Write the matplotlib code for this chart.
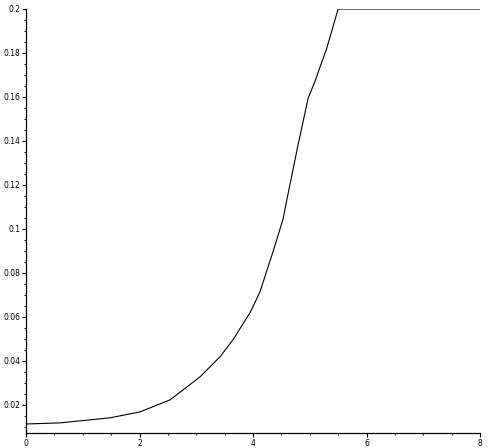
import matplotlib
matplotlib.use('Agg')
import matplotlib.pyplot as plt
from matplotlib.ticker import MultipleLocator, FuncFormatter

# values
x = [0, 0.6, 1.48, 2.01, 2.54, 3.07, 3.42, 3.65, 3.95, 4.12, 4.35, 4.53,
     4.6, 4.78, 4.97, 5.09, 5.3, 5.5, 8]
y = [0.0113, 0.0118, 0.0141, 0.0168, 0.0223, 0.0328, 0.0419, 0.0497, 0.062,
     0.0712, 0.0894, 0.1045, 0.1137, 0.1365, 0.1593, 0.167, 0.1822, 0.2, 0.2]
x_ticks = [0, 2, 4, 6, 8]
y_ticks = [0.02, 0.04, 0.06, 0.08, 0.1, 0.12, 0.14, 0.16, 0.18, 0.2]

W, H = 492, 448
fig = plt.figure(figsize=(W / 100, H / 100), dpi=100)
ax = fig.add_axes([26 / W, (H - 433) / H, (480 - 26) / W, (433 - 9) / H])

ax.plot(x, y, color='black', linewidth=0.8)

ax.set_xlim(0, 8)
ax.set_ylim(0.0072, 0.2)
ax.set_xticks(x_ticks)
ax.set_yticks(y_ticks)
ax.xaxis.set_minor_locator(MultipleLocator(0.5))
ax.yaxis.set_minor_locator(MultipleLocator(0.005))
ax.yaxis.set_major_formatter(FuncFormatter(lambda v, p: '%g' % round(v, 3)))

for side in ['top', 'right']:
    ax.spines[side].set_visible(False)
for side in ['left', 'bottom']:
    ax.spines[side].set_linewidth(0.9)

ax.tick_params(which='major', direction='out', length=3, width=0.8,
               labelsize=5.5, pad=1, colors='black')
ax.tick_params(which='minor', direction='out', length=1.5, width=0.6)

fig.savefig('out.png', dpi=100)
